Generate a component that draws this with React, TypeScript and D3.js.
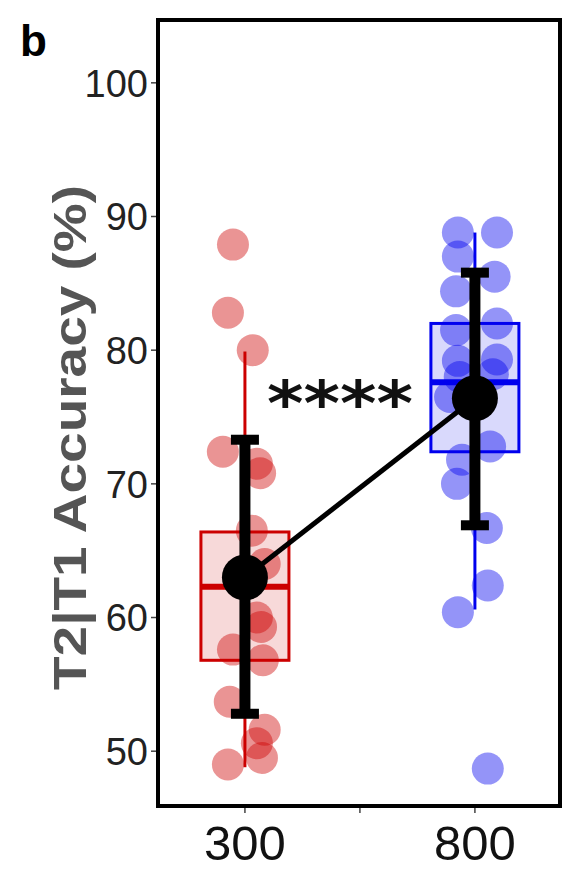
import React from "react";
import * as d3 from "d3";

// ---- data ----
const groups = [300, 800];
const groupColors = ["#cc0000", "#0000ee"];
const xTicks = [300, 550, 800];
const xTickLabels = ["300", "", "800"];
const yTicks = [50, 60, 70, 80, 90, 100];

// jittered points: x jitter (axis units) and accuracy %
const redValues = [87.9, 82.8, 80.0, 72.4, 71.5, 70.8, 66.5, 64.0, 60.0, 59.3, 57.6, 56.8, 53.7, 51.6, 50.6, 49.5, 49.0];
const redJitter = [-26, -37, 17, -48, 26, 33, 15, 43, 26, 35, -26, 39, -33, 43, 26, 37, -37];
const blueValues = [88.8, 88.8, 87.0, 85.5, 84.4, 82.0, 81.5, 79.2, 79.3, 78.0, 78.2, 76.5, 72.8, 71.8, 70.0, 66.7, 62.4, 60.4, 48.7];
const blueJitter = [-37, 48, -37, 43, -41, 48, -41, -37, 48, -33, 39, -54, 33, -28, -39, 26, 28, -37, 28];

// box stats per group
const q1 = [56.8, 72.4];
const median = [62.3, 77.6];
const q3 = [66.4, 82.0];
const whiskerLow = [48.8, 60.6];
const whiskerHigh = [79.9, 88.8];
const means = [63.0, 76.4];
const errLow = [52.8, 66.9];
const errHigh = [73.3, 85.8];
const signif = "****";

export default function App() {
  const W = 564, H = 870;
  const left = 158, right = 560, top = 20, bottom = 806;
  const x = d3.scaleLinear().domain([111, 985]).range([left, right]);
  const y = d3.scaleLinear().domain([45.9, 104.7]).range([bottom, top]);
  const boxHalf = 44;

  const pts = [
    ...redValues.map((v, i) => ({ g: 0, v, j: redJitter[i] })),
    ...blueValues.map((v, i) => ({ g: 1, v, j: blueJitter[i] })),
  ];
  const meanLine = d3.line<number>().x((_, i) => x(groups[i])).y((d) => y(d));

  return (
    <svg width={W} height={H} style={{ display: "block", position: "absolute", left: 0, top: 0 }}>
      <rect width={W} height={H} fill="#fff" />
      <text x={20} y={56} fontFamily="Liberation Sans, Arial" fontWeight="bold" fontSize={44} fill="#000">b</text>
      {/* y ticks */}
      {yTicks.map((t) => (
        <g key={t}>
          <line x1={left - 7} x2={left} y1={y(t)} y2={y(t)} stroke="#444" strokeWidth={1.5} />
          <text x={148} y={y(t)} dy="0.36em" textAnchor="end" fontFamily="Liberation Sans, Arial" fontSize={38} fill="#222">{t}</text>
        </g>
      ))}
      {/* x ticks */}
      {xTicks.map((t, i) => (
        <g key={t}>
          <line x1={x(t)} x2={x(t)} y1={bottom} y2={bottom + 7} stroke="#444" strokeWidth={1.5} />
          <text x={x(t)} y={860} textAnchor="middle" fontFamily="Liberation Sans, Arial" fontSize={49} fill="#111">{xTickLabels[i]}</text>
        </g>
      ))}
      <text
        transform={`translate(86, ${(185 + 690) / 2}) rotate(-90)`}
        textAnchor="middle"
        fontFamily="Liberation Sans, Arial"
        fontWeight="bold"
        fontSize={46}
        fill="#555"
        textLength={505}
        lengthAdjust="spacingAndGlyphs"
      >T2|T1 Accuracy (%)</text>
      {/* points */}
      {pts.map((p, i) => (
        <circle key={i} cx={x(groups[p.g] + p.j)} cy={y(p.v)} r={16} fill={groupColors[p.g]} fillOpacity={0.42} />
      ))}
      {/* boxes */}
      {groups.map((g, i) => (
        <g key={g}>
          <line x1={x(g)} x2={x(g)} y1={y(whiskerHigh[i])} y2={y(q3[i])} stroke={groupColors[i]} strokeWidth={3} />
          <line x1={x(g)} x2={x(g)} y1={y(q1[i])} y2={y(whiskerLow[i])} stroke={groupColors[i]} strokeWidth={3} />
          <rect x={x(g) - boxHalf} width={boxHalf * 2} y={y(q3[i])} height={y(q1[i]) - y(q3[i])}
            fill={groupColors[i]} fillOpacity={0.15} stroke={groupColors[i]} strokeWidth={3} />
          <line x1={x(g) - boxHalf} x2={x(g) + boxHalf} y1={y(median[i])} y2={y(median[i])} stroke={groupColors[i]} strokeWidth={6} />
        </g>
      ))}
      {/* mean line */}
      <path d={meanLine(means) || ""} fill="none" stroke="#000" strokeWidth={5} />
      {groups.map((g, i) => (
        <g key={"e" + g}>
          <line x1={x(g)} x2={x(g)} y1={y(errHigh[i])} y2={y(errLow[i])} stroke="#000" strokeWidth={11} />
          <rect x={x(g) - 14} width={28} y={y(errHigh[i]) - 5} height={10} fill="#000" />
          <rect x={x(g) - 14} width={28} y={y(errLow[i]) - 5} height={10} fill="#000" />
          <circle cx={x(g)} cy={y(means[i])} r={23} fill="#000" />
        </g>
      ))}
      <text x={340} y={387} dy="0.62em" textAnchor="middle" fontFamily="DejaVu Sans" fontWeight="bold" fontSize={62}
        fill="#111" textLength={146} lengthAdjust="spacingAndGlyphs">{signif}</text>
      {/* frame */}
      <rect x={left} y={top} width={right - left} height={bottom - top} fill="none" stroke="#000" strokeWidth={4} />
    </svg>
  );
}
